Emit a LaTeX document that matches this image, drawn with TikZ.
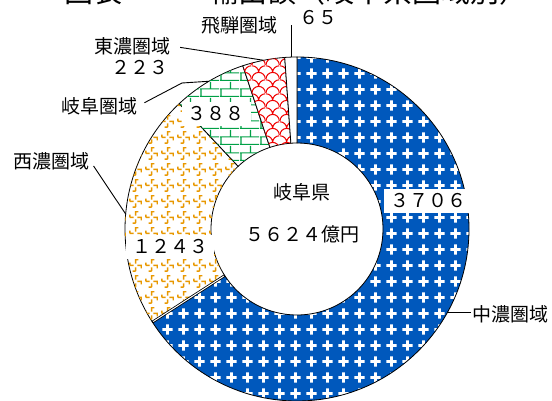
\documentclass[tikz,border=0pt]{standalone}
\usepackage{fontspec}
\setmainfont{Noto Sans CJK JP}
\usetikzlibrary{patterns}

\definecolor{chublue}{RGB}{0,88,188}
\definecolor{seinogold}{RGB}{232,152,0}
\definecolor{gifugreen}{RGB}{0,160,70}
\definecolor{tonored}{RGB}{240,0,0}

% white crosses on the blue part
\pgfdeclarepatternformonly{pluses}{\pgfpointorigin}{\pgfqpoint{16pt}{16pt}}{\pgfqpoint{16pt}{16pt}}{%
  \pgfpathrectangle{\pgfqpoint{6.5pt}{2.5pt}}{\pgfqpoint{3pt}{11pt}}%
  \pgfpathrectangle{\pgfqpoint{2.5pt}{6.5pt}}{\pgfqpoint{11pt}{3pt}}%
  \pgfusepath{fill}}
% broken crosses
\pgfdeclarepatternformonly{pinwheels}{\pgfpointorigin}{\pgfqpoint{16pt}{16pt}}{\pgfqpoint{16pt}{16pt}}{%
  \pgfsetlinewidth{1.5pt}%
  \pgfpathmoveto{\pgfqpoint{8pt}{2pt}}\pgfpathlineto{\pgfqpoint{8pt}{6pt}}%
  \pgfpathmoveto{\pgfqpoint{8pt}{10pt}}\pgfpathlineto{\pgfqpoint{8pt}{14pt}}\pgfpathlineto{\pgfqpoint{11pt}{14pt}}%
  \pgfpathmoveto{\pgfqpoint{2pt}{8pt}}\pgfpathlineto{\pgfqpoint{6pt}{8pt}}%
  \pgfpathmoveto{\pgfqpoint{10pt}{8pt}}\pgfpathlineto{\pgfqpoint{14pt}{8pt}}\pgfpathlineto{\pgfqpoint{14pt}{5pt}}%
  \pgfpathmoveto{\pgfqpoint{8pt}{2pt}}\pgfpathlineto{\pgfqpoint{5pt}{2pt}}%
  \pgfpathmoveto{\pgfqpoint{2pt}{8pt}}\pgfpathlineto{\pgfqpoint{2pt}{11pt}}%
  \pgfusepath{stroke}}
% bricks
\pgfdeclarepatternformonly{greenbricks}{\pgfpointorigin}{\pgfqpoint{20pt}{16pt}}{\pgfqpoint{20pt}{16pt}}{%
  \pgfsetlinewidth{1.2pt}%
  \pgfpathmoveto{\pgfqpoint{0pt}{0.6pt}}\pgfpathlineto{\pgfqpoint{20pt}{0.6pt}}%
  \pgfpathmoveto{\pgfqpoint{0pt}{8.6pt}}\pgfpathlineto{\pgfqpoint{20pt}{8.6pt}}%
  \pgfpathmoveto{\pgfqpoint{1pt}{0pt}}\pgfpathlineto{\pgfqpoint{1pt}{8pt}}%
  \pgfpathmoveto{\pgfqpoint{11pt}{8pt}}\pgfpathlineto{\pgfqpoint{11pt}{16pt}}%
  \pgfusepath{stroke}}
% scales
\pgfdeclarepatternformonly{scales}{\pgfpointorigin}{\pgfqpoint{14pt}{14pt}}{\pgfqpoint{14pt}{14pt}}{%
  \pgfsetlinewidth{1.1pt}%
  \pgfpathmoveto{\pgfqpoint{0pt}{0pt}}\pgfpatharc{180}{0}{7pt}%
  \pgfpathmoveto{\pgfqpoint{0pt}{14pt}}\pgfpatharc{90}{0}{7pt}%
  \pgfpathmoveto{\pgfqpoint{7pt}{7pt}}\pgfpatharc{180}{90}{7pt}%
  \pgfusepath{stroke}}

\tikzset{
  lbl/.style={inner sep=1pt, font=\fontsize{19}{19}\selectfont},
  numbox/.style={lbl, fill=white, inner xsep=6pt, inner ysep=5pt},
  leader/.style={line width=0.9pt},
  ringedge/.style={draw=black, line width=0.8pt},
  chuno/.style={ringedge, preaction={fill=chublue}, pattern=pluses, pattern color=white},
  seino/.style={ringedge, fill=white, postaction={pattern=pinwheels, pattern color=seinogold}},
  gifu/.style={ringedge, fill=white, postaction={pattern=greenbricks, pattern color=gifugreen}},
  tono/.style={ringedge, fill=white, postaction={pattern=scales, pattern color=tonored}},
  hida/.style={ringedge, fill=white}
}

\begin{document}
\begin{tikzpicture}[x=1pt,y=1pt]
    \useasboundingbox (0,0) rectangle (552,401);

    \node[anchor=base west, inner sep=0pt, font=\fontsize{29}{29}\selectfont] (title) at (64,398) {図表　　　輸出額（岐阜県圏域別）};

    \coordinate (c) at (297,172);
    \begin{scope}[shift={(c)}]
        \path[chuno] (90:172) arc[start angle=90, end angle=-147.23, radius=172]
            -- (-147.23:86) arc[start angle=-147.23, end angle=90, radius=86] -- cycle;
        \path[seino] (-147.23:172) arc[start angle=-147.23, end angle=-226.8, radius=172]
            -- (-226.8:86) arc[start angle=-226.8, end angle=-147.23, radius=86] -- cycle;
        \path[gifu] (-226.8:172) arc[start angle=-226.8, end angle=-251.64, radius=172]
            -- (-251.64:86) arc[start angle=-251.64, end angle=-226.8, radius=86] -- cycle;
        \path[tono] (-251.64:172) arc[start angle=-251.64, end angle=-265.91, radius=172]
            -- (-265.91:86) arc[start angle=-265.91, end angle=-251.64, radius=86] -- cycle;
        \path[hida] (-265.91:172) arc[start angle=-265.91, end angle=-270, radius=172]
            -- (-270:86) arc[start angle=-270, end angle=-265.91, radius=86] -- cycle;
        % white gap between 中濃 and 西濃
        \draw[line width=2.6pt] (-147.23:86) -- (-147.23:172);
        \draw[line width=1pt, white] (-147.23:87) -- (-147.23:171);

        \coordinate (hidaP) at (92:172);
        \coordinate (tonoP) at (101.2:172);
        \coordinate (gifuP) at (120.8:172);
        \coordinate (seinoP) at (175:172);
        \coordinate (chuP) at (-29.2:172);
    \end{scope}

    % labels
    \node[lbl] (hidaname) at (239,376) {飛騨圏域};
    \node[lbl] (hidaval) at (318,383) {６５};
    \node[lbl] (tononame) at (132,355) {東濃圏域};
    \node[lbl] (tonoval) at (140,333) {２２３};
    \node[lbl] (gifuname) at (99,295) {岐阜圏域};
    \node[numbox] (gifuval) at (216,287) {３８８};
    \node[lbl] (seinoname) at (51,240) {西濃圏域};
    \node[numbox] (seinoval) at (170,154) {１２４３};
    \node[numbox] (chuval) at (428,200) {３７０６};
    \node[lbl] (chuname) at (510,87) {中濃圏域};
    \node[lbl] (pref) at (302,209) {岐阜県};
    \node[lbl] (total) at (302,167) {５６２４億円};

    % leaders
    \coordinate (gifuK) at (182,318);
    \draw[leader] (hidaP) -- (hidaP |- hidaname.east);
    \draw[leader, shorten <=9pt] (tononame.east) -- (tonoP);
    \draw[leader, shorten <=7pt] (gifuname.east) -- (gifuK) -- (gifuP);
    \draw[leader, shorten <=6pt] (seinoname.east) -- (seinoP);
    \draw[leader] (chuP) -- (chuP -| chuname.west);
\end{tikzpicture}
\end{document}
